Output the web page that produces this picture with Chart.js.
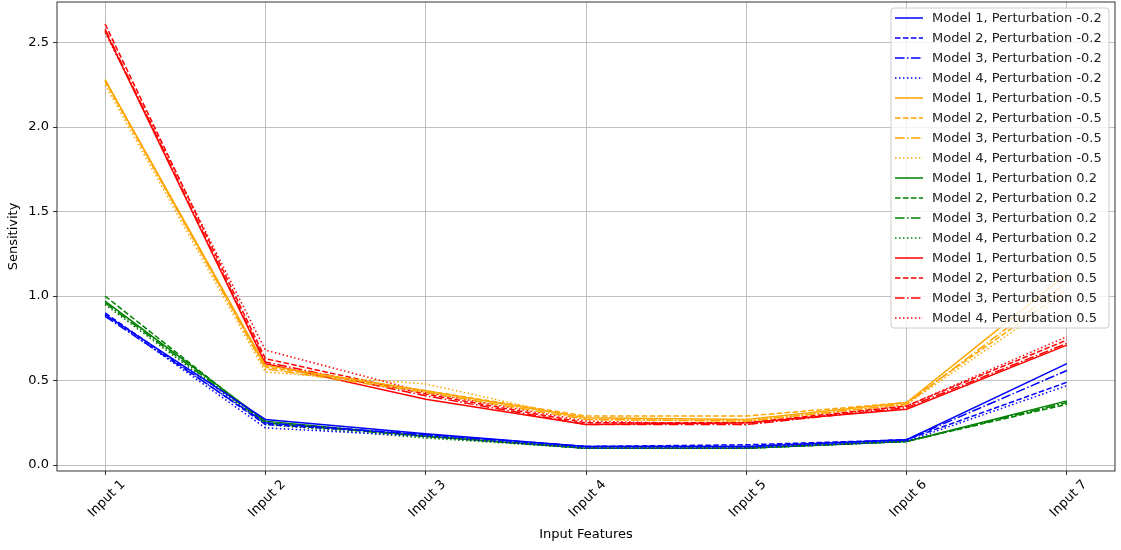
<!DOCTYPE html>
<html>
<head>
<meta charset="utf-8">
<script src="https://cdn.jsdelivr.net/npm/chart.js@4/dist/chart.umd.min.js"></script>
<style>
  html, body { margin: 0; padding: 0; background: #fff; }
</style>
</head>
<body>
<canvas id="chart" width="1121" height="550"></canvas>
<script>
// categories
const inputs = ['Input 1', 'Input 2', 'Input 3', 'Input 4', 'Input 5', 'Input 6', 'Input 7'];
const models = ['Model 1', 'Model 2', 'Model 3', 'Model 4'];
const perturbations = ['-0.2', '-0.5', '0.2', '0.5'];
const yTicks = [0.0, 0.5, 1.0, 1.5, 2.0, 2.5];

// sensitivity per model (rows = Model 1..4), one array per perturbation
const pertMinus02 = [
    [0.89, 0.27, 0.185, 0.11, 0.11, 0.15, 0.60],
    [0.90, 0.24, 0.18, 0.11, 0.12, 0.15, 0.49],
    [0.88, 0.25, 0.18, 0.11, 0.11, 0.15, 0.56],
    [0.89, 0.22, 0.17, 0.10, 0.10, 0.14, 0.47]
];
const pertMinus05 = [
    [2.28, 0.59, 0.44, 0.28, 0.27, 0.37, 1.13],
    [2.27, 0.58, 0.44, 0.29, 0.29, 0.37, 1.04],
    [2.28, 0.57, 0.43, 0.27, 0.26, 0.36, 1.08],
    [2.25, 0.55, 0.48, 0.27, 0.26, 0.36, 1.01]
];
const pertPlus02 = [
    [0.97, 0.26, 0.17, 0.10, 0.10, 0.14, 0.38],
    [1.00, 0.25, 0.17, 0.10, 0.10, 0.14, 0.36],
    [0.96, 0.25, 0.17, 0.10, 0.10, 0.14, 0.37],
    [0.95, 0.24, 0.16, 0.10, 0.10, 0.14, 0.37]
];
const pertPlus05 = [
    [2.57, 0.60, 0.39, 0.24, 0.25, 0.33, 0.71],
    [2.61, 0.63, 0.42, 0.25, 0.25, 0.35, 0.74],
    [2.58, 0.61, 0.41, 0.24, 0.24, 0.34, 0.72],
    [2.56, 0.68, 0.43, 0.26, 0.24, 0.35, 0.76]
];

const allPerts = [pertMinus02, pertMinus05, pertPlus02, pertPlus05];
const colors = ['#0000ff', '#ffa500', '#008000', '#ff0000'];
// matplotlib styles: solid, dashed, dashdot, dotted (lw 1.5)
const dashes = [[], [5.55, 2.4], [9.6, 2.4, 1.5, 2.4], [1.5, 2.475]];

const FONT = "'DejaVu Sans', sans-serif";
const FS = 13;

const datasets = [];
allPerts.forEach((rows, p) => {
    rows.forEach((vals, m) => {
        datasets.push({
            label: models[m] + ', Perturbation ' + perturbations[p],
            data: vals.map((v, i) => ({ x: i, y: v })),
            borderColor: colors[p],
            backgroundColor: colors[p],
            borderWidth: 1.5,
            borderDash: dashes[m],
            pointRadius: 0,
            fill: false,
            tension: 0
        });
    });
});

// frame + legend box like matplotlib
const framePlugin = {
    id: 'frame',
    afterDraw(chart) {
        const { ctx, chartArea: a } = chart;
        ctx.save();
        ctx.strokeStyle = '#000';
        ctx.lineWidth = 0.8;
        ctx.strokeRect(a.left, a.top, a.right - a.left, a.bottom - a.top);

        // legend
        const rowH = 20;
        const n = chart.data.datasets.length;
        const boxR = a.right - 6, boxT = a.top + 6;
        const boxL = 891, boxB = boxT + n * rowH;
        ctx.beginPath();
        ctx.roundRect(boxL, boxT, boxR - boxL, boxB - boxT, 3);
        ctx.fillStyle = 'rgba(255,255,255,0.8)';
        ctx.fill();
        ctx.strokeStyle = '#cccccc';
        ctx.lineWidth = 1;
        ctx.stroke();

        ctx.font = FS + 'px ' + FONT;
        ctx.textBaseline = 'middle';
        ctx.textAlign = 'left';
        chart.data.datasets.forEach((ds, i) => {
            const y = boxT + 10 + i * rowH;
            ctx.beginPath();
            ctx.setLineDash(ds.borderDash);
            ctx.strokeStyle = ds.borderColor;
            ctx.lineWidth = 1.5;
            ctx.moveTo(895, y);
            ctx.lineTo(923, y);
            ctx.stroke();
            ctx.setLineDash([]);
            ctx.fillStyle = '#222';
            ctx.fillText(ds.label, 932, y + 1);
        });
        ctx.restore();
    }
};

new Chart(document.getElementById('chart'), {
    type: 'line',
    data: { datasets },
    options: {
        responsive: false,
        animation: false,
        devicePixelRatio: 1,
        layout: { padding: { top: 2, right: 6, left: 0, bottom: 0 } },
        plugins: {
            legend: { display: false },
            tooltip: { enabled: false }
        },
        scales: {
            x: {
                type: 'linear',
                min: -0.3,
                max: 6.3,
                afterFit: (s) => { s.height = 79; s.paddingLeft = 0; s.paddingRight = 0; },
                afterBuildTicks: (s) => { s.ticks = inputs.map((_, i) => ({ value: i })); },
                grid: { color: '#b0b0b0', lineWidth: 0.8, tickColor: '#000', tickLength: 4 },
                border: { display: false },
                ticks: {
                    includeBounds: false,
                    autoSkip: false,
                    minRotation: 45,
                    maxRotation: 45,
                    labelOffset: 18,
                    padding: 2,
                    color: '#000',
                    font: { family: FONT, size: FS },
                    callback: (v) => inputs[v]
                },
                title: {
                    display: true,
                    text: 'Input Features',
                    color: '#000',
                    font: { family: FONT, size: FS },
                    padding: { top: 0, bottom: 8 }
                }
            },
            y: {
                min: -0.035,
                max: 2.74,
                afterFit: (s) => { s.width = 57; s.paddingTop = 0; s.paddingBottom = 0; },
                afterBuildTicks: (s) => { s.ticks = yTicks.map(v => ({ value: v })); },
                grid: { color: '#b0b0b0', lineWidth: 0.8, tickColor: '#000', tickLength: 4 },
                border: { display: false },
                ticks: {
                    includeBounds: false,
                    padding: 4,
                    color: '#000',
                    font: { family: FONT, size: FS },
                    callback: (v) => v.toFixed(1)
                },
                title: {
                    display: true,
                    text: 'Sensitivity',
                    color: '#000',
                    font: { family: FONT, size: FS },
                    padding: { top: 6, bottom: 0 }
                }
            }
        }
    },
    plugins: [framePlugin]
});
</script>
</body>
</html>
